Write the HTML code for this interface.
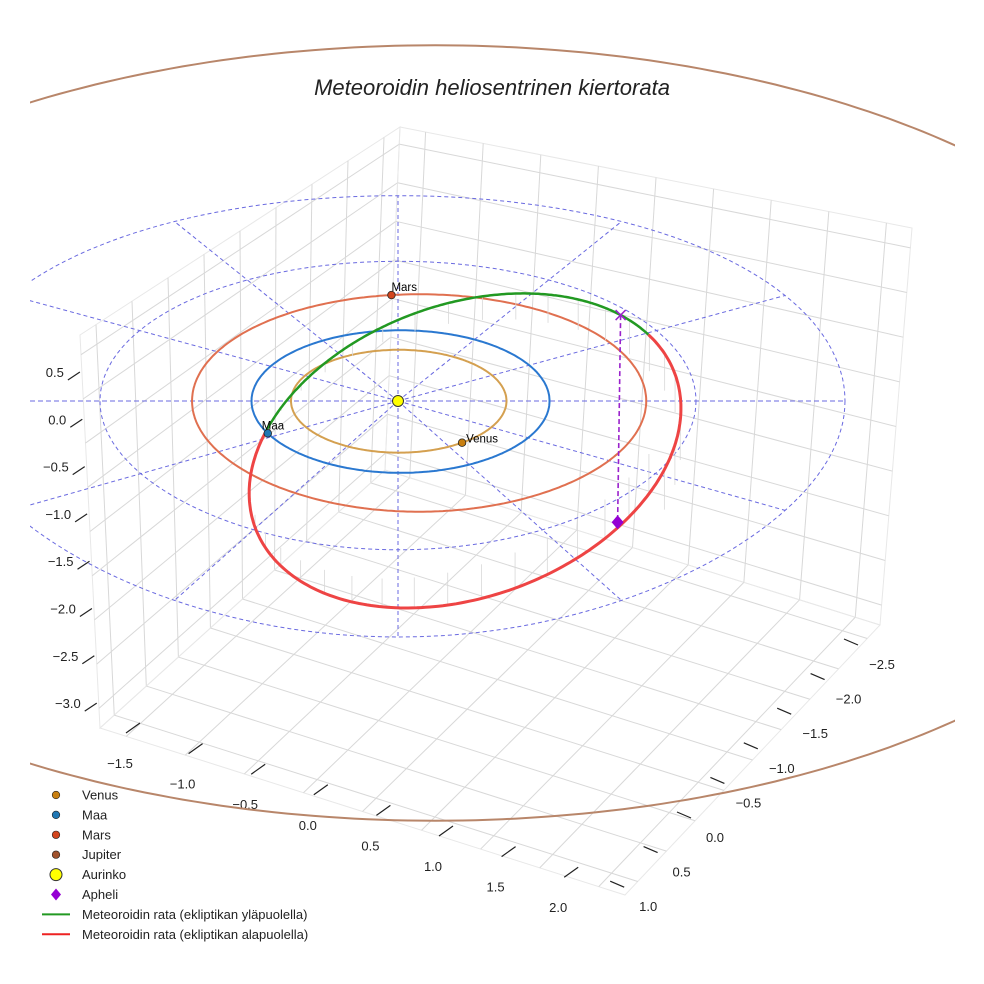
<!DOCTYPE html>
<html><head><meta charset="utf-8"><title>Meteoroidin heliosentrinen kiertorata</title>
<style>
html,body{margin:0;padding:0;background:#fff;}
svg{display:block;font-family:"Liberation Sans",sans-serif;}
</style></head>
<body>
<svg id="chart" width="984" height="984" viewBox="0 0 984 984" xmlns="http://www.w3.org/2000/svg">
<defs><clipPath id="clip"><rect x="30" y="0" width="925" height="984"/></clipPath></defs>
<g id="grid"></g>
<g id="ticks"></g>
<g id="plot" clip-path="url(#clip)"></g>
<text x="492" y="95" text-anchor="middle" font-size="22" font-style="italic" fill="#222">Meteoroidin heliosentrinen kiertorata</text>
<g id="legend"></g>
</svg>
<script>
// ---- data ----
const zTicks = [0.5, 0.0, -0.5, -1.0, -1.5, -2.0, -2.5, -3.0];
const xTicks = [-1.5, -1.0, -0.5, 0.0, 0.5, 1.0, 1.5, 2.0];
const yTicks = [-2.5, -2.0, -1.5, -1.0, -0.5, 0.0, 0.5, 1.0];
const planetNames = ["Venus", "Maa", "Mars", "Jupiter"];
const planetA = [0.723, 1.0, 1.524, 5.203];
const planetE = [0.007, 0.017, 0.093, 0.048];
const planetAngle = [54, 153, -97, 90];
const planetColors = ["#d4a050", "#2a78d0", "#e07050", "#b8866a"];
const markerColors = ["#c87f10", "#1f77b4", "#d2451e", "#a0522d"];
const refCircles = [2, 3];
const radialAngles = [30, 60, 90, 120, 150, 210, 240, 270, 300, 330];
const meteorA = [1.5, 2.06];
const meteorTilt = [-20];
const meteorCenter = [0.45, 0.7];
const apheliZ = [-1.4];

// ---- projection ----
const cx = 398, cy = 401, SX = 149, SY = 71, SZ = 148;
function px(x){ return cx + x*SX; }
function py(y, z){ const s = y > 0 ? 1 + 0.012*y*y : 1 - 0.004*y*y; return cy + y*SY*s - (z||0)*SZ; }
// far-field projection for the large Jupiter orbit (perspective compresses it)
function pyFar(y){ return cy + 32 + y*74.6; }

const NS = "http://www.w3.org/2000/svg";
function mk(tag, attrs, parent){ const e = document.createElementNS(NS, tag); for (const k in attrs) e.setAttribute(k, attrs[k]); parent.appendChild(e); return e; }

// ---- panes / grid ----
const grid = document.getElementById('grid');
function bil(c, u, v){
  const x = (1-u)*(1-v)*c[0][0] + u*(1-v)*c[1][0] + (1-u)*v*c[2][0] + u*v*c[3][0];
  const y = (1-u)*(1-v)*c[0][1] + u*(1-v)*c[1][1] + (1-u)*v*c[2][1] + u*v*c[3][1];
  return [x,y];
}
const panes = [
  {name:'left-wall', c:[[80,335],[400,127],[100,728],[385,470]]},
  {name:'right-wall', c:[[400,127],[912,228],[385,470],[880,625]]},
  {name:'floor', c:[[100,728],[385,470],[625,895],[880,625]]}
];
panes.forEach(p => {
  const g = mk('g', {}, grid);
  
  
  mk('polygon', {points:[p.c[0],p.c[1],p.c[3],p.c[2]].map(q=>q.join(',')).join(' '), fill:'none', stroke:'#e8e8e8'}, g);
  for (let i = 0; i <= 8; i++) {
    const t = 0.05 + i*0.9/8;
    let a = bil(p.c, t, 0), b = bil(p.c, t, 1);
    mk('line', {x1:a[0],y1:a[1],x2:b[0],y2:b[1],stroke:'#d8d8d8','stroke-width':1}, g);
    a = bil(p.c, 0, t); b = bil(p.c, 1, t);
    mk('line', {x1:a[0],y1:a[1],x2:b[0],y2:b[1],stroke:'#d8d8d8','stroke-width':1}, g);
  }
});

// ---- tick labels ----
const ticks = document.getElementById('ticks');
zTicks.forEach((v,i) => {
  const y = 372 + (0.5 - v)/0.5*47.3;
  const x = 80 + (y-335)/393*20;
  mk('line', {x1:x-2, y1:y, x2:x-14, y2:y+8, stroke:'#222','stroke-width':1.2}, ticks);
  const t = mk('text', {x:x-18, y:y+5, 'text-anchor':'end', 'font-size':13, fill:'#222'}, ticks);
  t.textContent = v.toFixed(1).replace('-', '\u2212');
  
  
});
xTicks.forEach((v,i) => {
  const k = (v + 1.5)/0.5;
  const x = 120 + k*62.6, y = 763 + k*20.6;
  mk('line', {x1:x+6, y1:y-30, x2:x+20, y2:y-40, stroke:'#222','stroke-width':1.2}, ticks);
  const t = mk('text', {x:x, y:y+5, 'text-anchor':'middle', 'font-size':13, fill:'#222'}, ticks);
  t.textContent = v.toFixed(1).replace('-', '\u2212');
  
  
});
yTicks.forEach((v,i) => {
  const k = (v + 2.5)/0.5;
  const x = 882 - k*33.4, y = 664 + k*34.6;
  mk('line', {x1:x-38, y1:y-25, x2:x-24, y2:y-19, stroke:'#222','stroke-width':1.2}, ticks);
  const t = mk('text', {x:x, y:y+5, 'text-anchor':'middle', 'font-size':13, fill:'#222'}, ticks);
  t.textContent = v.toFixed(1).replace('-', '\u2212');
  
  
});

// ---- plot ----
const plot = document.getElementById('plot');
function orbitPts(a, e, n, far){ const pts=[]; const b=a*Math.sqrt(1-e*e); for(let i=0;i<=n;i++){const t=i/n*2*Math.PI; pts.push([px(a*Math.cos(t)+a*e), far ? pyFar(b*Math.sin(t)) : py(b*Math.sin(t))]);} return pts; }
function ptsStr(p){ return p.map(q=>q[0].toFixed(1)+','+q[1].toFixed(1)).join(' '); }

refCircles.forEach(r => {
  const e = mk('polyline', {points:ptsStr(orbitPts(r,0,180)), fill:'none', stroke:'#6a6ae0','stroke-width':1,'stroke-dasharray':'4,3'}, plot);
  
  
});
radialAngles.forEach(a => {
  const r = 3, t = a*Math.PI/180;
  const e = mk('line', {x1:px(0), y1:py(0), x2:px(r*Math.cos(t)), y2:py(-r*Math.sin(t)), stroke:'#6a6ae0','stroke-width':1,'stroke-dasharray':'4,3'}, plot);
  
  
});
{
  const e = mk('line', {x1:30, y1:py(0), x2:px(3), y2:py(0), stroke:'#6a6ae0','stroke-width':1,'stroke-dasharray':'5,3'}, plot);
  
  
}

planetNames.forEach((n,i) => {
  const pts = orbitPts(planetA[i], planetE[i], 360, i === 3);
  const e = mk('polyline', {points:ptsStr(pts), fill:'none', stroke:planetColors[i], 'stroke-width':2}, plot);
  
  
});

// meteoroid orbit
const mcx = px(meteorCenter[0]), mcy = cy + meteorCenter[1]*SY;
const ma = meteorA[0]*SX, mb = meteorA[1]*SY, th = meteorTilt[0]*Math.PI/180;
function mpt(t){ return [mcx + ma*Math.cos(t)*Math.cos(th) - mb*Math.sin(t)*Math.sin(th), mcy + ma*Math.cos(t)*Math.sin(th) + mb*Math.sin(t)*Math.cos(th)]; }
function nearestT(p){ let best=0,bd=1e9; for(let i=0;i<720;i++){const t=i/720*2*Math.PI; const q=mpt(t); const d=(q[0]-p[0])**2+(q[1]-p[1])**2; if(d<bd){bd=d;best=t;}} return best; }
function planetPos(i){ const a=planetA[i], e=planetE[i], b=a*Math.sqrt(1-e*e), t=planetAngle[i]*Math.PI/180; return [px(a*Math.cos(t)+a*e), py(b*Math.sin(t))]; }
const earth = planetPos(1);
const tE = nearestT(earth);
const tUp = nearestT([650, 332]);
const tAp = nearestT([621, 314]);
function arc(t0, t1){ const pts=[]; let d=t1-t0; while(d<0)d+=2*Math.PI; for(let i=0;i<=200;i++) pts.push(mpt(t0 + d*i/200)); return pts; }
for (let i=0;i<40;i++){
  const t = tE + i/40*2*Math.PI; const q = mpt(t);
  const e = mk('line', {x1:q[0], y1:q[1], x2:q[0], y2:q[1] + (Math.sin(t-tE) > 0 ? 40 : -40)*Math.abs(Math.sin((t-tE)/2)), stroke:'#d8d8d8','stroke-width':0.8}, plot);
  
  
}
{
  let g1 = arc(tE, tUp), r1 = arc(tUp, tE);
  if (g1[100][1] > cy) { const tmp = g1; g1 = r1; r1 = tmp; }
  const red = mk('polyline', {points:ptsStr(r1), fill:'none', stroke:'#ee4444','stroke-width':3}, plot);
  
  
  const green = mk('polyline', {points:ptsStr(g1), fill:'none', stroke:'#229922','stroke-width':2.5}, plot);
  
  
}

const apTop = mpt(tAp);
{
  const by = apTop[1] + (-apheliZ[0])*148, bx = apTop[0]-3;
  const l = mk('line', {x1:apTop[0], y1:apTop[1], x2:bx, y2:by, stroke:'#9a22cc','stroke-width':1.6,'stroke-dasharray':'5,3'}, plot);
  
  
  const x = mk('path', {d:`M${apTop[0]-5},${apTop[1]-5}L${apTop[0]+5},${apTop[1]+5}M${apTop[0]-5},${apTop[1]+5}L${apTop[0]+5},${apTop[1]-5}`, stroke:'#9a22cc','stroke-width':1.5}, plot);
  
  
  const d = mk('polygon', {points:`${bx},${by-7} ${bx+6},${by} ${bx},${by+7} ${bx-6},${by}`, fill:'#9400d3'}, plot);
  
  
}

[0,1,2].forEach(i => {
  const p = planetPos(i);
  const c = mk('circle', {cx:p[0], cy:p[1], r:3.8, fill:markerColors[i], stroke:'#222','stroke-width':0.8}, plot);
  
  
  const t = mk('text', {x:p[0]+(i===0?4:(i===1?-6:0)), y:p[1]-4+(i===0?4:0), 'font-size':11.5, fill:'#000'}, plot);
  t.textContent = planetNames[i];
  
  
});
{
  const s = mk('circle', {cx:px(0), cy:py(0), r:5.5, fill:'#ffff00', stroke:'#333','stroke-width':1}, plot);
  
  
}

const legend = document.getElementById('legend');
const legendLabels = ["Venus","Maa","Mars","Jupiter","Aurinko","Apheli","Meteoroidin rata (ekliptikan yläpuolella)","Meteoroidin rata (ekliptikan alapuolella)"];
legendLabels.forEach((lab,i) => {
  const y = 795 + i*19.9;
  const g = mk('g', {}, legend);
  
  
  if (i < 4) mk('circle', {cx:56, cy:y, r:3.8, fill:markerColors[i], stroke:'#222','stroke-width':0.6}, g);
  else if (i === 4) mk('circle', {cx:56, cy:y, r:6, fill:'#ffff00', stroke:'#333','stroke-width':1}, g);
  else if (i === 5) mk('polygon', {points:`56,${y-6} 61,${y} 56,${y+6} 51,${y}`, fill:'#9400d3'}, g);
  else mk('line', {x1:42, y1:y, x2:70, y2:y, stroke:i===6?'#229922':'#ee2222','stroke-width':2}, g);
  const t = mk('text', {x:82, y:y+4.5, 'font-size':13, fill:'#222'}, g);
  t.textContent = lab;
});
</script>
</body></html>
